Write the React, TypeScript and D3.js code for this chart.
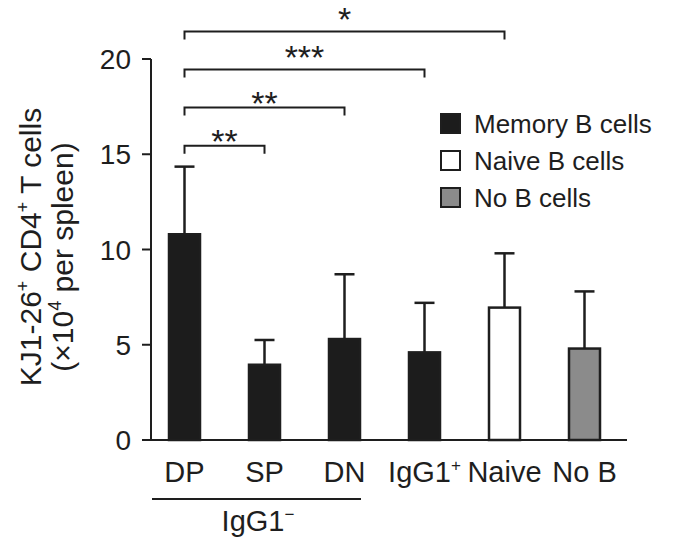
import React from "react";
import * as d3 from "d3";

const categories = ["DP", "SP", "DN", "IgG1+", "Naive", "No B"];
const means = [10.8, 3.95, 5.3, 4.6, 6.95, 4.8];
const errors = [3.55, 1.3, 3.4, 2.6, 2.85, 3.0];
const groups = ["Memory B cells", "Memory B cells", "Memory B cells", "Memory B cells", "Naive B cells", "No B cells"];
const legendItems = ["Memory B cells", "Naive B cells", "No B cells"];
const yTicks = [0, 5, 10, 15, 20];
const comparisons = [
  { from: "DP", to: "SP", label: "**" },
  { from: "DP", to: "DN", label: "**" },
  { from: "DP", to: "IgG1+", label: "***" },
  { from: "DP", to: "Naive", label: "*" },
];

const W = 675;
const H = 541;
const FONT = "'Liberation Sans', Arial, Helvetica, sans-serif";
const INK = "#1e1e1e";

const fills: Record<string, string> = {
  "Memory B cells": "#1c1c1c",
  "Naive B cells": "#ffffff",
  "No B cells": "#8b8b8b",
};

export default function App() {
  const y = d3.scaleLinear().domain([0, 20]).range([440, 59]);
  const x = d3
    .scaleBand<string>()
    .domain(categories)
    .range([151, 618])
    .paddingInner(0.6125)
    .paddingOuter(0.225);
  const bw = x.bandwidth();
  const cx = (c: string) => (x(c) as number) + bw / 2;
  const tickFs = 28;
  const labelFs = 29;
  const legendFs = 26;
  const titleFs = 30;

  const renderLabel = (c: string) => {
    if (c === "IgG1+") {
      return (
        <>
          IgG1<tspan dy={-11} fontSize={17}>+</tspan>
        </>
      );
    }
    return c;
  };

  return (
    <div style={{ position: "absolute", left: 0, top: 0 }}>
      <svg width={W} height={H} style={{ display: "block", background: "#fff" }} fontFamily={FONT}>
        {/* Y axis */}
        <line x1={151} x2={151} y1={y(20)} y2={y(0)} stroke={INK} strokeWidth={2} />
        {yTicks.map((t) => (
          <g key={t}>
            <line x1={142} x2={151} y1={y(t)} y2={y(t)} stroke={INK} strokeWidth={2} />
            <text x={131} y={y(t)} dy="0.36em" textAnchor="end" fontSize={tickFs} fill={INK}>
              {t}
            </text>
          </g>
        ))}
        {/* Y title */}
        <g transform={`translate(41, 247) rotate(-90)`}>
          <text x={0} y={0} textAnchor="middle" fontSize={titleFs} fill={INK}>
            KJ1-26<tspan dy={-12} fontSize={18}>+</tspan>
            <tspan dy={12}> CD4</tspan>
            <tspan dy={-12} fontSize={18}>+</tspan>
            <tspan dy={12}> T cells</tspan>
          </text>
        </g>
        <g transform={`translate(73, 257) rotate(-90)`}>
          <text x={0} y={0} textAnchor="middle" fontSize={titleFs} fill={INK}>
            (×10<tspan dy={-12} fontSize={18}>4</tspan>
            <tspan dy={12}> per spleen)</tspan>
          </text>
        </g>

        {/* Bars */}
        {categories.map((c, i) => (
          <g key={c}>
            <line
              x1={cx(c)}
              x2={cx(c)}
              y1={y(means[i])}
              y2={y(means[i] + errors[i])}
              stroke={INK}
              strokeWidth={2.5}
            />
            <line
              x1={cx(c) - 10}
              x2={cx(c) + 10}
              y1={y(means[i] + errors[i])}
              y2={y(means[i] + errors[i])}
              stroke={INK}
              strokeWidth={2.5}
            />
            <rect
              x={x(c)}
              y={y(means[i])}
              width={bw}
              height={y(0) - y(means[i])}
              fill={fills[groups[i]]}
              stroke={INK}
              strokeWidth={2.5}
            />
          </g>
        ))}

        {/* X axis */}
        <line x1={142} x2={627} y1={y(0)} y2={y(0)} stroke={INK} strokeWidth={2} />
        {categories.map((c) => (
          <text key={c} x={cx(c)} y={482} textAnchor="middle" fontSize={labelFs} fill={INK}>
            {renderLabel(c)}
          </text>
        ))}
        <line x1={152} x2={361} y1={499} y2={499} stroke={INK} strokeWidth={2} />
        <text x={258} y={531} textAnchor="middle" fontSize={labelFs} fill={INK}>
          IgG1<tspan dy={-11} fontSize={17}>−</tspan>
        </text>

        {/* Significance brackets */}
        {comparisons.map((cmp, i) => {
          const level = y(15.45 + 2 * i);
          const x1 = cx(cmp.from);
          const x2 = cx(cmp.to);
          const lift = i >= 2 ? 0 : 7;
          return (
            <g key={i}>
              <path
                d={`M${x1},${level + 8}V${level}H${x2}V${level + 8}`}
                fill="none"
                stroke={INK}
                strokeWidth={2}
              />
              <text x={(x1 + x2) / 2} y={level + lift} textAnchor="middle" fontSize={34} fill={INK}>
                {cmp.label}
              </text>
            </g>
          );
        })}

        {/* Legend */}
        {legendItems.map((item, i) => (
          <g key={item} transform={`translate(441, ${124 + i * 37})`}>
            <rect x={0} y={-10} width={19} height={19} fill={fills[item]} stroke={INK} strokeWidth={2} />
            <text x={33} y={0} dy="0.36em" fontSize={legendFs} fill={INK}>
              {item}
            </text>
          </g>
        ))}
      </svg>
    </div>
  );
}
